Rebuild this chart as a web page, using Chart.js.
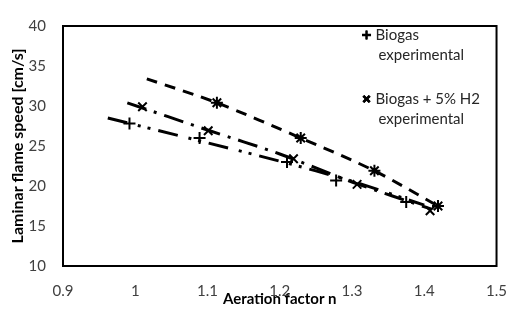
<!DOCTYPE html>
<html>
<head>
<meta charset="utf-8">
<script src="https://cdn.jsdelivr.net/npm/chart.js@4.4.0/dist/chart.umd.min.js"></script>
<style>
  html, body { margin: 0; padding: 0; background: #fff; }
  #wrap { width: 523px; height: 312px; position: relative; }
</style>
</head>
<body>
<div id="wrap"><canvas id="chart"></canvas></div>
<script>
// Measured points (aeration factor n vs laminar flame speed, cm/s)
const biogasN = [0.992, 1.089, 1.210, 1.278, 1.375];
const biogasS = [27.8, 26.0, 23.0, 20.7, 18.0];
const h2N = [1.010, 1.101, 1.219, 1.307, 1.408];
const h2S = [29.9, 26.9, 23.4, 20.2, 16.9];
const starN = [1.113, 1.229, 1.331, 1.419];
const starS = [30.4, 26.0, 21.9, 17.5];

// Trend / model curves
const topLineN = [1.016, 1.113, 1.229, 1.331, 1.419];
const topLineS = [33.4, 30.4, 26.0, 21.9, 17.5];
const midLineN = [0.989, 1.1, 1.2, 1.3, 1.41];
const midLineS = [30.4, 27.0, 24.0, 20.5, 17.1];
const lowLineN = [0.962, 1.1, 1.2, 1.3, 1.40];
const lowLineS = [28.5, 25.4, 23.1, 20.6, 17.6];

// Axis ticks
const xTicks = [0.9, 1.0, 1.1, 1.2, 1.3, 1.4, 1.5];
const yTicks = [10, 15, 20, 25, 30, 35, 40];

// Legend text
const legendItems = [
  { style: 'cross', lines: ['Biogas', 'experimental'] },
  { style: 'crossRot', lines: ['Biogas + 5% H2', 'experimental'] }
];

function pts(xs, ys) {
  return xs.map((x, i) => ({ x: x, y: ys[i] }));
}

function lineSet(xs, ys, dash) {
  return {
    data: pts(xs, ys),
    showLine: true,
    pointRadius: 0,
    borderColor: '#000',
    borderWidth: 3,
    borderDash: dash,
    borderCapStyle: 'butt',
    tension: 0.3,
    fill: false
  };
}

function markerSet(label, xs, ys, style) {
  return {
    label: label,
    data: pts(xs, ys),
    showLine: false,
    pointStyle: style,
    pointRadius: 6,
    pointBorderWidth: 2,
    borderColor: '#000',
    backgroundColor: '#000'
  };
}

// frame around the plot area
const frame = {
  id: 'frame',
  beforeDatasetsDraw(chart) {
    const a = chart.chartArea;
    const c = chart.ctx;
    c.save();
    c.strokeStyle = '#000';
    c.lineWidth = 2;
    c.strokeRect(a.left, a.top, a.right - a.left, a.bottom - a.top);
    c.restore();
  }
};

// two-line legend entries like the original
const legendBox = {
  id: 'legendBox',
  afterDraw(chart) {
    const c = chart.ctx;
    const a = chart.chartArea;
    const x0 = a.right - 130;
    let y = a.top + 9;
    c.save();
    c.font = '15px Lato';
    c.fillStyle = '#262626';
    c.textBaseline = 'middle';
    legendItems.forEach(item => {
      Chart.helpers.drawPoint(c, {
        pointStyle: item.style, radius: 4.5, borderWidth: 2.5, rotation: 0
      }, x0, y);
      c.strokeStyle = '#000';
      c.lineWidth = 2.5;
      c.stroke();
      item.lines.forEach((t, i) => {
        c.fillText(t, x0 + 9 + (i ? 3 : 0), y + i * 20);
      });
      y += 64;
    });
    c.restore();
  }
};

new Chart(document.getElementById('chart'), {
  type: 'scatter',
  data: {
    datasets: [
      lineSet(topLineN, topLineS, [11, 8]),
      lineSet(midLineN, midLineS, [20, 8, 3, 8]),
      lineSet(lowLineN, lowLineS, [20, 11, 3, 7, 3, 8]),
      markerSet('Biogas experimental', biogasN, biogasS, 'cross'),
      markerSet('Biogas + 5% H2 experimental', h2N, h2S, 'crossRot'),
      markerSet('', starN, starS, 'star')
    ]
  },
  options: {
    responsive: true,
    maintainAspectRatio: false,
    animation: false,
    layout: { padding: { top: 19, right: 24, left: 0, bottom: 0 } },
    plugins: {
      legend: { display: false },
      tooltip: { enabled: false }
    },
    scales: {
      x: {
        type: 'linear',
        min: xTicks[0],
        max: xTicks[xTicks.length - 1],
        afterBuildTicks: s => { s.ticks = xTicks.map(v => ({ value: v })); },
        afterFit: s => { s.height = 46; },
        grid: { display: false, drawTicks: false },
        border: { display: false },
        ticks: {
          padding: 16,
          color: '#404040',
          font: { family: 'Lato', size: 15 },
          callback: v => String(Number(v.toFixed(1)))
        },
        title: {
          display: true,
          text: 'Aeration factor n',
          color: '#000',
          font: { family: 'Lato', size: 15, weight: 'bold' },
          padding: { top: 0, bottom: 4 }
        }
      },
      y: {
        min: yTicks[0],
        max: yTicks[yTicks.length - 1],
        afterBuildTicks: s => { s.ticks = yTicks.map(v => ({ value: v })); },
        afterFit: s => { s.width = 63; },
        grid: { display: false, drawTicks: false },
        border: { display: false },
        ticks: {
          padding: 17,
          color: '#404040',
          font: { family: 'Lato', size: 15 }
        },
        title: {
          display: true,
          text: 'Laminar flame speed [cm/s]',
          color: '#000',
          font: { family: 'Lato', size: 16, weight: 'bold' },
          padding: { top: 8, bottom: 0 }
        }
      }
    }
  },
  plugins: [frame, legendBox]
});
</script>
</body>
</html>
